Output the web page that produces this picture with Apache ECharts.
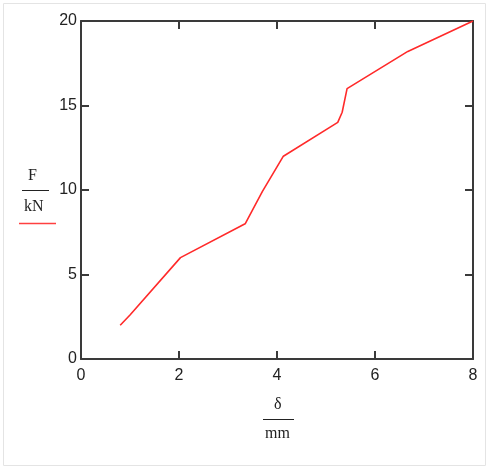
<!DOCTYPE html>
<html><head><meta charset="utf-8">
<script src="https://cdn.jsdelivr.net/npm/echarts@6/dist/echarts.min.js"></script>
<style>html,body{margin:0;padding:0;background:#fff}#c{width:489px;height:469px}</style>
</head><body><div id="c"></div>
<script>
const deltaMm = [0.8, 1.0, 2.03, 3.35, 3.7, 4.13, 5.24, 5.33, 5.43, 6.67, 8.0];
const forceKN = [2.0, 2.6, 6.0, 8.0, 9.9, 12.0, 14.0, 14.6, 16.0, 18.2, 20.0];
const xTicks = [0, 2, 4, 6, 8];
const yTicks = [0, 5, 10, 15, 20];

const pts = deltaMm.map((x, i) => [x, forceKN[i]]);
const axisColor = '#3a3a3a';
const labelFont = {fontFamily: 'Liberation Sans', fontSize: 16, color: '#222'};
function mkX(pos, showLabel) {
  return {type: 'value', position: pos, min: xTicks[0], max: xTicks[xTicks.length-1], interval: 2,
    axisLine: {show: true, onZero: false, lineStyle: {color: axisColor, width: 2}},
    axisTick: {show: true, inside: true, length: 8, lineStyle: {color: axisColor, width: 2}},
    axisLabel: Object.assign({show: showLabel, margin: 9}, labelFont),
    splitLine: {show: false}};
}
function mkY(pos, showLabel) {
  return {type: 'value', position: pos, min: yTicks[0], max: yTicks[yTicks.length-1], interval: 5,
    axisLine: {show: true, onZero: false, lineStyle: {color: axisColor, width: 2}},
    axisTick: {show: true, inside: true, length: 8, lineStyle: {color: axisColor, width: 2}},
    axisLabel: Object.assign({show: showLabel, margin: 4}, labelFont),
    splitLine: {show: false}};
}
const chart = echarts.init(document.getElementById('c'), null, {renderer: 'canvas'});
chart.setOption({
  animation: false,
  grid: {left: 81, right: 16, top: 21, bottom: 110, containLabel: false},
  xAxis: [mkX('bottom', true), mkX('top', false)],
  yAxis: [mkY('left', true), mkY('right', false)],
  series: [{type: 'line', data: pts, xAxisIndex: 0, yAxisIndex: 0, showSymbol: false,
    lineStyle: {color: '#ff2a2a', width: 1.6}}],
  graphic: [
    {type: 'rect', shape: {x: 3.5, y: 3.5, width: 482, height: 462}, style: {fill: 'none', stroke: '#e4e4e4', lineWidth: 1}},
    {type: 'text', left: 28, top: 168, style: {text: 'F', font: '16px "Liberation Serif"', fill: '#222'}},
    {type: 'line', shape: {x1: 22, y1: 190.5, x2: 49, y2: 190.5}, style: {stroke: '#222', lineWidth: 1}},
    {type: 'text', left: 24, top: 199, style: {text: 'kN', font: '16px "Liberation Serif"', fill: '#222'}},
    {type: 'line', shape: {x1: 19, y1: 223.5, x2: 56, y2: 223.5}, style: {stroke: '#ff4040', lineWidth: 1.6}},
    {type: 'text', left: 274, top: 397, style: {text: 'δ', font: '16px "Liberation Serif"', fill: '#222'}},
    {type: 'line', shape: {x1: 263, y1: 419.5, x2: 294, y2: 419.5}, style: {stroke: '#222', lineWidth: 1}},
    {type: 'text', left: 265, top: 426, style: {text: 'mm', font: '16px "Liberation Serif"', fill: '#222'}}
  ]
});
</script></body></html>
